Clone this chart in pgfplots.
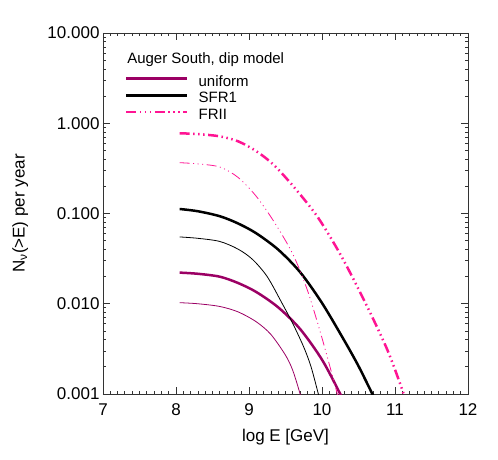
\documentclass[border=0pt]{standalone}
\usepackage{fontspec}
\setmainfont{Liberation Sans}
\usepackage{pgfplots}
\pgfplotsset{compat=1.18}

\definecolor{uniformc}{RGB}{155,0,100}
\definecolor{friic}{RGB}{255,20,147}

\tikzset{
  frthick/.style={dash pattern=on 10pt off 3.5pt on 1.5pt off 3.5pt on 1.5pt off 3.5pt on 1.5pt off 3.5pt},
  frthin/.style={dash pattern=on 10pt off 3.5pt on 1pt off 3.5pt on 1pt off 3.5pt on 1pt off 3.5pt},
}

\begin{document}
\begin{tikzpicture}
\useasboundingbox (0,0) rectangle (498pt,460pt);
\begin{axis}[
  at={(103pt,66pt)}, anchor=south west,
  scale only axis,
  width=365pt, height=361pt,
  xmin=7, xmax=12,
  ymode=log, ymin=0.001, ymax=10,
  xtick={7,8,9,10,11,12},
  minor x tick num=9,
  ytick={0.001,0.01,0.1,1,10},
  yticklabels={0.001,0.010,0.100,1.000,10.000},
  /pgf/number format/assume math mode=true,
  tick label style={font=\fontsize{17}{20}\selectfont},
  xticklabel style={yshift=-6pt},
  label style={font=\fontsize{17}{20}\selectfont},
  xlabel={log E [GeV]},
  ylabel={N\textsubscript{ν}(>E) per year},
  xlabel style={at={(axis description cs:0.5,-0.119)}, anchor=center},
  ylabel style={at={(axis description cs:-0.227,0.5)}, anchor=center},
  major tick length=7pt, minor tick length=3.5pt,
  every tick/.style={black!80, line width=0.8pt},
  axis line style={black!80, line width=0.8pt},
  clip=true,
  legend style={at={(rel axis cs:0.060,0.881)}, anchor=north west,
    draw=none, fill=none, inner sep=0pt, row sep=3.7pt,
    font=\fontsize{15}{18}\selectfont,
    nodes={inner sep=0pt, text height=10pt, text depth=3pt},
    column sep=10pt},
  legend cell align=left,
  legend image code/.code={\draw[#1] (0pt,4pt) -- (61pt,4pt);},
]
% thick curves (legend)
\addplot[uniformc, line width=2.5pt, smooth] coordinates {
 (8.05,0.02213) (8.3,0.02148) (8.6,0.01995) (8.85,0.01698) (9.1,0.01349)
 (9.4,0.00912) (9.7,0.00525) (10.0,0.0024) (10.25,0.001) (10.4,0.00056)};
\addlegendentry{uniform}
\addplot[black, line width=2.5pt, smooth] coordinates {
 (8.05,0.1122) (8.3,0.1059) (8.6,0.0933) (8.85,0.0776) (9.1,0.0603)
 (9.4,0.0398) (9.7,0.0224) (10.0,0.0102) (10.3,0.00398) (10.5,0.00204)
 (10.69,0.001) (10.85,0.00055)};
\addlegendentry{SFR1}
\addplot[friic, line width=2.5pt, frthick, smooth] coordinates {
 (8.05,0.7745) (8.3,0.7586) (8.6,0.7161) (8.85,0.631) (9.1,0.490)
 (9.35,0.339) (9.65,0.182) (9.95,0.0891) (10.27,0.0331) (10.6,0.01)
 (10.9,0.00302) (11.12,0.001) (11.2,0.00063)};
\addlegendentry{FRII}
% thin curves
\addplot[uniformc, line width=0.8pt, smooth, forget plot] coordinates {
 (8.05,0.01028) (8.3,0.0100) (8.6,0.00933) (8.85,0.00813) (9.1,0.00631)
 (9.3,0.00457) (9.5,0.00269) (9.6,0.00182) (9.7,0.001) (9.76,0.00063)};
\addplot[black, line width=0.8pt, smooth, forget plot] coordinates {
 (8.05,0.0550) (8.3,0.0531) (8.6,0.0490) (8.85,0.0403) (9.05,0.0309)
 (9.25,0.01995) (9.45,0.01023) (9.6,0.00603) (9.75,0.00331) (9.85,0.002)
 (9.95,0.001) (10.02,0.0006)};
\addplot[friic, line width=0.8pt, frthin, smooth, forget plot] coordinates {
 (8.05,0.3656) (8.3,0.3548) (8.6,0.3273) (8.85,0.2512) (9.1,0.1549)
 (9.35,0.0794) (9.6,0.0355) (9.8,0.01413) (10.0,0.00417) (10.21,0.001)
 (10.28,0.0006)};
\node[anchor=west, inner sep=0pt, font=\fontsize{15}{18}\selectfont]
  at (rel axis cs:0.066,0.925) {Auger South, dip model};
\end{axis}
\end{tikzpicture}
\end{document}
